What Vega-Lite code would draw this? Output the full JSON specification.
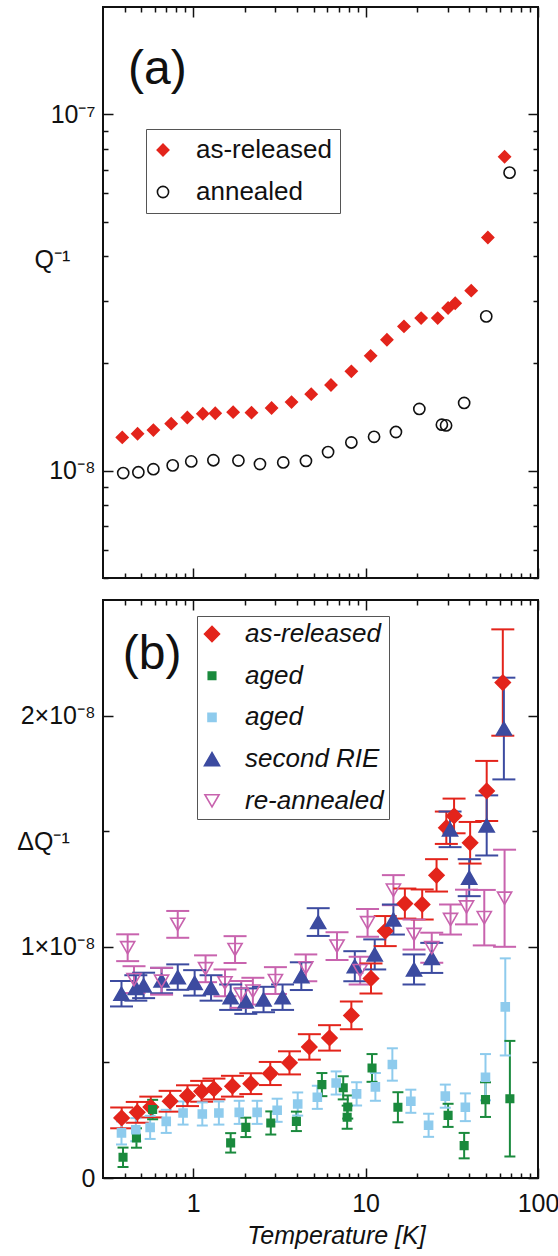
{
  "$schema": "https://vega.github.io/schema/vega-lite/v6.json",
  "padding": {"left": 15, "top": 5, "right": 0, "bottom": 0},
  "background": "white",
  "spacing": 18,
  "resolve": {
    "scale": {"shape": "independent", "fill": "independent", "stroke": "independent", "size": "independent", "color": "independent"}
  },
  "config": {
    "view": {"stroke": "#111", "strokeWidth": 2},
    "font": "Liberation Sans",
    "axis": {"domain": false, "ticks": true, "tickColor": "#111", "tickWidth": 1.5, "labelFont": "Liberation Sans", "labelFontSize": 25, "labelColor": "#111", "titleFont": "Liberation Sans", "titleFontSize": 25, "titleFontWeight": "normal", "titleColor": "#111", "grid": false, "labelFlush": false, "labelOverlap": false},
    "legend": {"labelFont": "Liberation Sans", "labelFontSize": 26, "labelColor": "#111", "strokeColor": "#555", "fillColor": "white", "symbolStrokeWidth": 1.6, "labelLimit": 300}
  },
  "datasets": {
    "top": [
      {"T": 0.393, "Q": 9.85e-9, "s": "annealed"},
      {"T": 0.481, "Q": 9.9e-9, "s": "annealed"},
      {"T": 0.588, "Q": 1.01e-8, "s": "annealed"},
      {"T": 0.761, "Q": 1.035e-8, "s": "annealed"},
      {"T": 0.975, "Q": 1.062e-8, "s": "annealed"},
      {"T": 1.31, "Q": 1.07e-8, "s": "annealed"},
      {"T": 1.83, "Q": 1.068e-8, "s": "annealed"},
      {"T": 2.44, "Q": 1.044e-8, "s": "annealed"},
      {"T": 3.33, "Q": 1.055e-8, "s": "annealed"},
      {"T": 4.51, "Q": 1.065e-8, "s": "annealed"},
      {"T": 6.06, "Q": 1.128e-8, "s": "annealed"},
      {"T": 8.27, "Q": 1.2e-8, "s": "annealed"},
      {"T": 11.2, "Q": 1.245e-8, "s": "annealed"},
      {"T": 15.0, "Q": 1.284e-8, "s": "annealed"},
      {"T": 20.5, "Q": 1.49e-8, "s": "annealed"},
      {"T": 27.7, "Q": 1.346e-8, "s": "annealed"},
      {"T": 29.3, "Q": 1.34e-8, "s": "annealed"},
      {"T": 37.3, "Q": 1.549e-8, "s": "annealed"},
      {"T": 50.1, "Q": 2.71e-8, "s": "annealed"},
      {"T": 68.4, "Q": 6.86e-8, "s": "annealed"},
      {"T": 0.388, "Q": 1.24e-8, "s": "as-released"},
      {"T": 0.476, "Q": 1.27e-8, "s": "as-released"},
      {"T": 0.588, "Q": 1.30e-8, "s": "as-released"},
      {"T": 0.746, "Q": 1.355e-8, "s": "as-released"},
      {"T": 0.925, "Q": 1.41e-8, "s": "as-released"},
      {"T": 1.137, "Q": 1.445e-8, "s": "as-released"},
      {"T": 1.343, "Q": 1.45e-8, "s": "as-released"},
      {"T": 1.706, "Q": 1.46e-8, "s": "as-released"},
      {"T": 2.18, "Q": 1.455e-8, "s": "as-released"},
      {"T": 2.85, "Q": 1.50e-8, "s": "as-released"},
      {"T": 3.72, "Q": 1.558e-8, "s": "as-released"},
      {"T": 4.84, "Q": 1.64e-8, "s": "as-released"},
      {"T": 6.30, "Q": 1.74e-8, "s": "as-released"},
      {"T": 8.27, "Q": 1.90e-8, "s": "as-released"},
      {"T": 10.7, "Q": 2.10e-8, "s": "as-released"},
      {"T": 13.3, "Q": 2.33e-8, "s": "as-released"},
      {"T": 16.7, "Q": 2.54e-8, "s": "as-released"},
      {"T": 21.0, "Q": 2.68e-8, "s": "as-released"},
      {"T": 26.2, "Q": 2.68e-8, "s": "as-released"},
      {"T": 30.1, "Q": 2.86e-8, "s": "as-released"},
      {"T": 33.1, "Q": 2.95e-8, "s": "as-released"},
      {"T": 41.0, "Q": 3.2e-8, "s": "as-released"},
      {"T": 51.2, "Q": 4.51e-8, "s": "as-released"},
      {"T": 64.0, "Q": 7.6e-8, "s": "as-released"}
    ],
    "bot": [
      {"g": "as-released", "T": 0.385, "v": 2.6e-9, "lo": 2.15e-9, "hi": 3.05e-9},
      {"g": "as-released", "T": 0.474, "v": 2.84e-9, "lo": 2.39e-9, "hi": 3.29e-9},
      {"g": "as-released", "T": 0.568, "v": 3.07e-9, "lo": 2.62e-9, "hi": 3.52e-9},
      {"g": "as-released", "T": 0.735, "v": 3.32e-9, "lo": 2.87e-9, "hi": 3.77e-9},
      {"g": "as-released", "T": 0.927, "v": 3.56e-9, "lo": 3.11e-9, "hi": 4.01e-9},
      {"g": "as-released", "T": 1.12, "v": 3.75e-9, "lo": 3.3e-9, "hi": 4.2e-9},
      {"g": "as-released", "T": 1.32, "v": 3.85e-9, "lo": 3.4e-9, "hi": 4.3e-9},
      {"g": "as-released", "T": 1.69, "v": 3.97e-9, "lo": 3.52e-9, "hi": 4.42e-9},
      {"g": "as-released", "T": 2.16, "v": 4.08e-9, "lo": 3.63e-9, "hi": 4.53e-9},
      {"g": "as-released", "T": 2.80, "v": 4.52e-9, "lo": 4.02e-9, "hi": 5.02e-9},
      {"g": "as-released", "T": 3.62, "v": 4.98e-9, "lo": 4.48e-9, "hi": 5.48e-9},
      {"g": "as-released", "T": 4.72, "v": 5.67e-9, "lo": 5.12e-9, "hi": 6.22e-9},
      {"g": "as-released", "T": 6.18, "v": 6.06e-9, "lo": 5.51e-9, "hi": 6.61e-9},
      {"g": "as-released", "T": 8.27, "v": 7.03e-9, "lo": 6.43e-9, "hi": 7.63e-9},
      {"g": "as-released", "T": 10.75, "v": 8.63e-9, "lo": 7.98e-9, "hi": 9.28e-9},
      {"g": "as-released", "T": 13.0, "v": 1.068e-8, "lo": 1.003e-8, "hi": 1.133e-8},
      {"g": "as-released", "T": 16.9, "v": 1.187e-8, "lo": 1.122e-8, "hi": 1.252e-8},
      {"g": "as-released", "T": 21.3, "v": 1.183e-8, "lo": 1.118e-8, "hi": 1.248e-8},
      {"g": "as-released", "T": 25.8, "v": 1.309e-8, "lo": 1.239e-8, "hi": 1.379e-8},
      {"g": "as-released", "T": 29.4, "v": 1.515e-8, "lo": 1.445e-8, "hi": 1.585e-8},
      {"g": "as-released", "T": 32.6, "v": 1.566e-8, "lo": 1.491e-8, "hi": 1.641e-8},
      {"g": "as-released", "T": 40.4, "v": 1.45e-8, "lo": 1.36e-8, "hi": 1.54e-8},
      {"g": "as-released", "T": 50.4, "v": 1.674e-8, "lo": 1.544e-8, "hi": 1.804e-8},
      {"g": "as-released", "T": 62.5, "v": 2.143e-8, "lo": 1.913e-8, "hi": 2.373e-8},
      {"g": "aged1", "T": 0.392, "v": 8.95e-10, "lo": 4.75e-10, "hi": 1.315e-9},
      {"g": "aged1", "T": 0.469, "v": 1.73e-9, "lo": 1.31e-9, "hi": 2.15e-9},
      {"g": "aged1", "T": 0.582, "v": 2.96e-9, "lo": 2.54e-9, "hi": 3.38e-9},
      {"g": "aged1", "T": 1.65, "v": 1.52e-9, "lo": 1.1e-9, "hi": 1.94e-9},
      {"g": "aged1", "T": 2.02, "v": 2.19e-9, "lo": 1.77e-9, "hi": 2.61e-9},
      {"g": "aged1", "T": 2.82, "v": 2.38e-9, "lo": 1.88e-9, "hi": 2.88e-9},
      {"g": "aged1", "T": 3.97, "v": 2.45e-9, "lo": 2.03e-9, "hi": 2.87e-9},
      {"g": "aged1", "T": 5.58, "v": 4.04e-9, "lo": 3.54e-9, "hi": 4.54e-9},
      {"g": "aged1", "T": 7.42, "v": 3.9e-9, "lo": 3.4e-9, "hi": 4.4e-9},
      {"g": "aged1", "T": 7.88, "v": 3.07e-9, "lo": 2.57e-9, "hi": 3.57e-9},
      {"g": "aged1", "T": 7.82, "v": 2.63e-9, "lo": 2.13e-9, "hi": 3.13e-9},
      {"g": "aged1", "T": 10.9, "v": 4.76e-9, "lo": 4.16e-9, "hi": 5.36e-9},
      {"g": "aged1", "T": 15.4, "v": 3.06e-9, "lo": 2.41e-9, "hi": 3.71e-9},
      {"g": "aged1", "T": 30.1, "v": 2.71e-9, "lo": 2.21e-9, "hi": 3.21e-9},
      {"g": "aged1", "T": 37.3, "v": 1.4e-9, "lo": 8.5e-10, "hi": 1.95e-9},
      {"g": "aged1", "T": 49.6, "v": 3.39e-9, "lo": 2.64e-9, "hi": 4.14e-9},
      {"g": "aged1", "T": 68.7, "v": 3.43e-9, "lo": 9.3e-10, "hi": 5.93e-9},
      {"g": "aged2", "T": 0.384, "v": 1.95e-9, "lo": 1.45e-9, "hi": 2.45e-9},
      {"g": "aged2", "T": 0.465, "v": 2.09e-9, "lo": 1.59e-9, "hi": 2.59e-9},
      {"g": "aged2", "T": 0.563, "v": 2.19e-9, "lo": 1.69e-9, "hi": 2.69e-9},
      {"g": "aged2", "T": 0.698, "v": 2.45e-9, "lo": 1.95e-9, "hi": 2.95e-9},
      {"g": "aged2", "T": 0.874, "v": 2.81e-9, "lo": 2.31e-9, "hi": 3.31e-9},
      {"g": "aged2", "T": 1.13, "v": 2.77e-9, "lo": 2.27e-9, "hi": 3.27e-9},
      {"g": "aged2", "T": 1.41, "v": 2.81e-9, "lo": 2.31e-9, "hi": 3.31e-9},
      {"g": "aged2", "T": 1.85, "v": 2.84e-9, "lo": 2.34e-9, "hi": 3.34e-9},
      {"g": "aged2", "T": 2.35, "v": 2.84e-9, "lo": 2.34e-9, "hi": 3.34e-9},
      {"g": "aged2", "T": 3.07, "v": 2.93e-9, "lo": 2.43e-9, "hi": 3.43e-9},
      {"g": "aged2", "T": 4.04, "v": 3.2e-9, "lo": 2.7e-9, "hi": 3.7e-9},
      {"g": "aged2", "T": 5.25, "v": 3.49e-9, "lo": 2.99e-9, "hi": 3.99e-9},
      {"g": "aged2", "T": 6.75, "v": 4.11e-9, "lo": 3.61e-9, "hi": 4.61e-9},
      {"g": "aged2", "T": 8.87, "v": 3.64e-9, "lo": 3.14e-9, "hi": 4.14e-9},
      {"g": "aged2", "T": 11.4, "v": 3.94e-9, "lo": 3.34e-9, "hi": 4.54e-9},
      {"g": "aged2", "T": 14.3, "v": 4.91e-9, "lo": 4.21e-9, "hi": 5.61e-9},
      {"g": "aged2", "T": 18.3, "v": 3.32e-9, "lo": 2.82e-9, "hi": 3.82e-9},
      {"g": "aged2", "T": 23.2, "v": 2.28e-9, "lo": 1.78e-9, "hi": 2.78e-9},
      {"g": "aged2", "T": 29.0, "v": 3.54e-9, "lo": 3.04e-9, "hi": 4.04e-9},
      {"g": "aged2", "T": 37.9, "v": 3.06e-9, "lo": 2.46e-9, "hi": 3.66e-9},
      {"g": "aged2", "T": 49.6, "v": 4.36e-9, "lo": 3.36e-9, "hi": 5.36e-9},
      {"g": "aged2", "T": 64.6, "v": 7.4e-9, "lo": 5.3e-9, "hi": 9.5e-9},
      {"g": "second RIE", "T": 0.384, "v": 7.97e-9, "lo": 7.42e-9, "hi": 8.52e-9},
      {"g": "second RIE", "T": 0.465, "v": 8.22e-9, "lo": 7.67e-9, "hi": 8.77e-9},
      {"g": "second RIE", "T": 0.516, "v": 8.33e-9, "lo": 7.78e-9, "hi": 8.88e-9},
      {"g": "second RIE", "T": 0.656, "v": 8.54e-9, "lo": 7.99e-9, "hi": 9.09e-9},
      {"g": "second RIE", "T": 0.814, "v": 8.69e-9, "lo": 8.14e-9, "hi": 9.24e-9},
      {"g": "second RIE", "T": 1.02, "v": 8.44e-9, "lo": 7.89e-9, "hi": 8.99e-9},
      {"g": "second RIE", "T": 1.27, "v": 8.22e-9, "lo": 7.67e-9, "hi": 8.77e-9},
      {"g": "second RIE", "T": 1.65, "v": 7.82e-9, "lo": 7.27e-9, "hi": 8.37e-9},
      {"g": "second RIE", "T": 2.02, "v": 7.65e-9, "lo": 7.1e-9, "hi": 8.2e-9},
      {"g": "second RIE", "T": 2.56, "v": 7.72e-9, "lo": 7.17e-9, "hi": 8.27e-9},
      {"g": "second RIE", "T": 3.30, "v": 7.82e-9, "lo": 7.27e-9, "hi": 8.37e-9},
      {"g": "second RIE", "T": 4.24, "v": 8.73e-9, "lo": 8.13e-9, "hi": 9.33e-9},
      {"g": "second RIE", "T": 5.31, "v": 1.107e-8, "lo": 1.047e-8, "hi": 1.167e-8},
      {"g": "second RIE", "T": 8.66, "v": 9.16e-9, "lo": 8.51e-9, "hi": 9.81e-9},
      {"g": "second RIE", "T": 11.3, "v": 9.67e-9, "lo": 9.02e-9, "hi": 1.032e-8},
      {"g": "second RIE", "T": 14.5, "v": 1.118e-8, "lo": 1.053e-8, "hi": 1.183e-8},
      {"g": "second RIE", "T": 19.1, "v": 9.02e-9, "lo": 8.37e-9, "hi": 9.67e-9},
      {"g": "second RIE", "T": 24.2, "v": 9.52e-9, "lo": 8.87e-9, "hi": 1.017e-8},
      {"g": "second RIE", "T": 30.9, "v": 1.508e-8, "lo": 1.431e-8, "hi": 1.585e-8},
      {"g": "second RIE", "T": 39.9, "v": 1.299e-8, "lo": 1.219e-8, "hi": 1.379e-8},
      {"g": "second RIE", "T": 50.4, "v": 1.525e-8, "lo": 1.395e-8, "hi": 1.655e-8},
      {"g": "second RIE", "T": 63.4, "v": 1.944e-8, "lo": 1.724e-8, "hi": 2.164e-8},
      {"g": "re-annealed", "T": 0.417, "v": 9.96e-9, "lo": 9.38e-9, "hi": 1.054e-8},
      {"g": "re-annealed", "T": 0.454, "v": 8.58e-9, "lo": 8.0e-9, "hi": 9.16e-9},
      {"g": "re-annealed", "T": 0.656, "v": 8.51e-9, "lo": 7.93e-9, "hi": 9.09e-9},
      {"g": "re-annealed", "T": 0.814, "v": 1.097e-8, "lo": 1.039e-8, "hi": 1.155e-8},
      {"g": "re-annealed", "T": 1.18, "v": 9.05e-9, "lo": 8.47e-9, "hi": 9.63e-9},
      {"g": "re-annealed", "T": 1.53, "v": 8.44e-9, "lo": 7.86e-9, "hi": 9.02e-9},
      {"g": "re-annealed", "T": 1.75, "v": 9.88e-9, "lo": 9.3e-9, "hi": 1.046e-8},
      {"g": "re-annealed", "T": 1.90, "v": 7.94e-9, "lo": 7.36e-9, "hi": 8.52e-9},
      {"g": "re-annealed", "T": 2.22, "v": 8.08e-9, "lo": 7.5e-9, "hi": 8.66e-9},
      {"g": "re-annealed", "T": 3.0, "v": 8.54e-9, "lo": 7.96e-9, "hi": 9.12e-9},
      {"g": "re-annealed", "T": 4.5, "v": 9.09e-9, "lo": 8.51e-9, "hi": 9.67e-9},
      {"g": "re-annealed", "T": 6.83, "v": 1.003e-8, "lo": 9.43e-9, "hi": 1.063e-8},
      {"g": "re-annealed", "T": 9.3, "v": 8.97e-9, "lo": 8.37e-9, "hi": 9.57e-9},
      {"g": "re-annealed", "T": 10.27, "v": 1.104e-8, "lo": 1.044e-8, "hi": 1.164e-8},
      {"g": "re-annealed", "T": 14.5, "v": 1.245e-8, "lo": 1.18e-8, "hi": 1.31e-8},
      {"g": "re-annealed", "T": 19.1, "v": 1.053e-8, "lo": 9.88e-9, "hi": 1.118e-8},
      {"g": "re-annealed", "T": 24.2, "v": 9.96e-9, "lo": 9.31e-9, "hi": 1.061e-8},
      {"g": "re-annealed", "T": 31.1, "v": 1.118e-8, "lo": 1.053e-8, "hi": 1.183e-8},
      {"g": "re-annealed", "T": 38.5, "v": 1.172e-8, "lo": 1.097e-8, "hi": 1.247e-8},
      {"g": "re-annealed", "T": 48.8, "v": 1.126e-8, "lo": 1.006e-8, "hi": 1.246e-8},
      {"g": "re-annealed", "T": 64.0, "v": 1.21e-8, "lo": 1.0e-8, "hi": 1.42e-8}
    ]
  },
  "vconcat": [
    {
      "width": 435,
      "height": 571,
      "data": {"name": "top"},
      "resolve": {"axis": {"x": "independent", "y": "independent"}},
      "layer": [
        {
          "mark": {"type": "point", "opacity": 1, "strokeWidth": 1.6},
          "encoding": {
            "x": {"field": "T", "type": "quantitative", "scale": {"type": "log", "domain": [0.3, 100], "nice": false},
                  "axis": {"orient": "bottom", "values": [1, 10, 100], "labels": false, "offset": -10, "tickSize": 10, "title": null}},
            "y": {"field": "Q", "type": "quantitative", "scale": {"type": "log", "domain": [5e-9, 2e-7], "nice": false},
                  "axis": {"orient": "left", "values": [1e-8, 1e-7], "offset": -10, "tickSize": 10, "labelPadding": 8, "labelExpr": "datum.value < 5e-8 ? '10⁻⁸' : '10⁻⁷'", "title": "Q⁻¹", "titleAngle": 0, "titleX": -61, "titleY": 252, "titleAlign": "center", "titleBaseline": "middle"}},
            "shape": {"field": "s", "type": "nominal", "scale": {"domain": ["as-released", "annealed"], "range": ["diamond", "circle"]},
                      "legend": {"title": null, "orient": "none", "legendX": 43, "legendY": 122, "padding": 8, "rowPadding": 16, "labelOffset": 20, "symbolOffset": -4}},
            "fill": {"field": "s", "type": "nominal", "scale": {"domain": ["as-released", "annealed"], "range": ["#e3241b", "transparent"]},
                     "legend": {"title": null, "orient": "none", "legendX": 43, "legendY": 122, "padding": 8, "rowPadding": 16, "labelOffset": 20, "symbolOffset": -4}},
            "stroke": {"field": "s", "type": "nominal", "scale": {"domain": ["as-released", "annealed"], "range": ["#e3241b", "#111111"]},
                       "legend": {"title": null, "orient": "none", "legendX": 43, "legendY": 122, "padding": 8, "rowPadding": 16, "labelOffset": 20, "symbolOffset": -4}},
            "size": {"field": "s", "type": "nominal", "scale": {"type": "ordinal", "domain": ["as-released", "annealed"], "range": [135, 125]},
                     "legend": {"title": null, "orient": "none", "legendX": 43, "legendY": 122, "padding": 8, "rowPadding": 16, "labelOffset": 20, "symbolOffset": -4}}
          }
        },
        {
          "mark": {"type": "point", "opacity": 0},
          "encoding": {
            "x": {"field": "T", "type": "quantitative", "scale": {"type": "log", "domain": [0.3, 100], "nice": false},
                  "axis": {"orient": "bottom", "values": [0.4, 0.5, 0.6, 0.7, 0.8, 0.9, 2, 3, 4, 5, 6, 7, 8, 9, 20, 30, 40, 50, 60, 70, 80, 90], "labels": false, "offset": -5, "tickSize": 5, "title": null}},
            "y": {"field": "Q", "type": "quantitative", "scale": {"type": "log", "domain": [5e-9, 2e-7], "nice": false},
                  "axis": {"orient": "left", "values": [5e-9, 6e-9, 7e-9, 8e-9, 9e-9, 2e-8, 3e-8, 4e-8, 5e-8, 6e-8, 7e-8, 8e-8, 9e-8], "labels": false, "offset": -5, "tickSize": 5, "title": null}}
          }
        },
        {
          "data": {"values": [{"label": "(a)"}]},
          "mark": {"type": "text", "fontSize": 48, "font": "Liberation Sans", "align": "center", "baseline": "middle", "color": "#111"},
          "encoding": {
            "text": {"field": "label", "type": "nominal"},
            "x": {"datum": 0.62, "type": "quantitative", "scale": {"type": "log", "domain": [0.3, 100], "nice": false},
                  "axis": {"orient": "top", "values": [1, 10, 100], "labels": false, "offset": -10, "tickSize": 10, "title": null}},
            "y": {"datum": 1.33e-7, "type": "quantitative", "scale": {"type": "log", "domain": [5e-9, 2e-7], "nice": false},
                  "axis": {"orient": "right", "values": [1e-8, 1e-7], "labels": false, "offset": -10, "tickSize": 10, "title": null}}
          }
        },
        {
          "mark": {"type": "point", "opacity": 0},
          "encoding": {
            "x": {"field": "T", "type": "quantitative", "scale": {"type": "log", "domain": [0.3, 100], "nice": false},
                  "axis": {"orient": "top", "values": [0.4, 0.5, 0.6, 0.7, 0.8, 0.9, 2, 3, 4, 5, 6, 7, 8, 9, 20, 30, 40, 50, 60, 70, 80, 90], "labels": false, "offset": -5, "tickSize": 5, "title": null}},
            "y": {"field": "Q", "type": "quantitative", "scale": {"type": "log", "domain": [5e-9, 2e-7], "nice": false},
                  "axis": {"orient": "right", "values": [5e-9, 6e-9, 7e-9, 8e-9, 9e-9, 2e-8, 3e-8, 4e-8, 5e-8, 6e-8, 7e-8, 8e-8, 9e-8], "labels": false, "offset": -5, "tickSize": 5, "title": null}}
          }
        }
      ]
    },
    {
      "width": 435,
      "height": 578,
      "data": {"name": "bot"},
      "resolve": {"axis": {"x": "independent", "y": "independent"}},
      "layer": [
        {
          "mark": {"type": "rule", "strokeWidth": 2},
          "encoding": {
            "x": {"field": "T", "type": "quantitative", "scale": {"type": "log", "domain": [0.3, 100], "nice": false},
                  "axis": {"orient": "bottom", "values": [1, 10, 100], "offset": -10, "tickSize": 10, "labelPadding": 13, "labelExpr": "datum.value < 5 ? '1' : datum.value < 50 ? '10' : '100'", "title": "Temperature [K]", "titleFontStyle": "italic", "titleX": 233, "titleY": 67, "titleAlign": "center", "titleBaseline": "middle"}},
            "y": {"field": "lo", "type": "quantitative", "scale": {"type": "linear", "domain": [0, 2.5e-8], "nice": false, "zero": false},
                  "axis": {"orient": "left", "values": [0, 1e-8, 2e-8], "offset": -10, "tickSize": 10, "labelPadding": 8, "labelExpr": "datum.value == 0 ? '0' : datum.value < 1.5e-8 ? '1×10⁻⁸' : '2×10⁻⁸'", "title": "ΔQ⁻¹", "titleAngle": 0, "titleX": -70, "titleY": 241, "titleAlign": "center", "titleBaseline": "middle"}},
            "y2": {"field": "hi"},
            "color": {"field": "g", "type": "nominal", "scale": {"domain": ["re-annealed", "second RIE", "aged2", "aged1", "as-released"], "range": ["#c863ae", "#3c4ba0", "#8ecbed", "#1a8a3d", "#e3241b"]}, "legend": null}
          }
        },
        {
          "transform": [{"filter": "datum.g != 'aged1' && datum.g != 'aged2'"}],
          "mark": {"type": "tick", "orient": "horizontal", "size": 23, "thickness": 2, "opacity": 1},
          "encoding": {
            "x": {"field": "T", "type": "quantitative", "scale": {"type": "log", "domain": [0.3, 100], "nice": false},
                  "axis": {"orient": "bottom", "values": [0.4, 0.5, 0.6, 0.7, 0.8, 0.9, 2, 3, 4, 5, 6, 7, 8, 9, 20, 30, 40, 50, 60, 70, 80, 90], "labels": false, "offset": -5, "tickSize": 5, "title": null}},
            "y": {"field": "lo", "type": "quantitative", "scale": {"type": "linear", "domain": [0, 2.5e-8], "nice": false, "zero": false},
                  "axis": {"orient": "left", "values": [5e-9, 1.5e-8], "labels": false, "offset": -6, "tickSize": 6, "title": null}},
            "color": {"field": "g", "type": "nominal", "scale": {"domain": ["re-annealed", "second RIE", "aged2", "aged1", "as-released"], "range": ["#c863ae", "#3c4ba0", "#8ecbed", "#1a8a3d", "#e3241b"]}, "legend": null}
          }
        },
        {
          "transform": [{"filter": "datum.g != 'aged1' && datum.g != 'aged2'"}],
          "mark": {"type": "tick", "orient": "horizontal", "size": 23, "thickness": 2, "opacity": 1},
          "encoding": {
            "x": {"field": "T", "type": "quantitative", "scale": {"type": "log", "domain": [0.3, 100], "nice": false},
                  "axis": {"orient": "top", "values": [1, 10, 100], "labels": false, "offset": -10, "tickSize": 10, "title": null}},
            "y": {"field": "hi", "type": "quantitative", "scale": {"type": "linear", "domain": [0, 2.5e-8], "nice": false, "zero": false},
                  "axis": {"orient": "right", "values": [0, 1e-8, 2e-8], "labels": false, "offset": -10, "tickSize": 10, "title": null}},
            "color": {"field": "g", "type": "nominal", "scale": {"domain": ["re-annealed", "second RIE", "aged2", "aged1", "as-released"], "range": ["#c863ae", "#3c4ba0", "#8ecbed", "#1a8a3d", "#e3241b"]}, "legend": null}
          }
        },
        {
          "transform": [{"filter": "datum.g == 'aged1' || datum.g == 'aged2'"}],
          "mark": {"type": "tick", "orient": "horizontal", "size": 11, "thickness": 2, "opacity": 1},
          "encoding": {
            "x": {"field": "T", "type": "quantitative", "scale": {"type": "log", "domain": [0.3, 100], "nice": false},
                  "axis": {"orient": "top", "values": [0.4, 0.5, 0.6, 0.7, 0.8, 0.9, 2, 3, 4, 5, 6, 7, 8, 9, 20, 30, 40, 50, 60, 70, 80, 90], "labels": false, "offset": -5, "tickSize": 5, "title": null}},
            "y": {"field": "lo", "type": "quantitative", "scale": {"type": "linear", "domain": [0, 2.5e-8], "nice": false, "zero": false},
                  "axis": {"orient": "right", "values": [5e-9, 1.5e-8], "labels": false, "offset": -6, "tickSize": 6, "title": null}},
            "color": {"field": "g", "type": "nominal", "scale": {"domain": ["re-annealed", "second RIE", "aged2", "aged1", "as-released"], "range": ["#c863ae", "#3c4ba0", "#8ecbed", "#1a8a3d", "#e3241b"]}, "legend": null}
          }
        },
        {
          "transform": [{"filter": "datum.g == 'aged1' || datum.g == 'aged2'"}],
          "mark": {"type": "tick", "orient": "horizontal", "size": 11, "thickness": 2, "opacity": 1},
          "encoding": {
            "x": {"field": "T", "type": "quantitative", "scale": {"type": "log", "domain": [0.3, 100], "nice": false}, "axis": null},
            "y": {"field": "hi", "type": "quantitative", "scale": {"type": "linear", "domain": [0, 2.5e-8], "nice": false, "zero": false}, "axis": null},
            "color": {"field": "g", "type": "nominal", "scale": {"domain": ["re-annealed", "second RIE", "aged2", "aged1", "as-released"], "range": ["#c863ae", "#3c4ba0", "#8ecbed", "#1a8a3d", "#e3241b"]}, "legend": null}
          }
        },
        {
          "mark": {"type": "point", "opacity": 1, "strokeWidth": 1.6},
          "encoding": {
            "x": {"field": "T", "type": "quantitative", "scale": {"type": "log", "domain": [0.3, 100], "nice": false}, "axis": null},
            "y": {"field": "v", "type": "quantitative", "scale": {"type": "linear", "domain": [0, 2.5e-8], "nice": false, "zero": false}, "axis": null},
            "shape": {"field": "g", "type": "nominal", "scale": {"domain": ["as-released", "aged1", "aged2", "second RIE", "re-annealed"], "range": ["diamond", "square", "square", "triangle-up", "triangle-down"]},
                      "legend": {"title": null, "orient": "none", "legendX": 94, "legendY": 16, "padding": 5, "rowPadding": 15.7, "labelOffset": 20, "symbolOffset": -3, "labelFontStyle": "italic", "labelExpr": "datum.label == 'aged1' || datum.label == 'aged2' ? 'aged' : datum.label"}},
            "fill": {"field": "g", "type": "nominal", "scale": {"domain": ["as-released", "aged1", "aged2", "second RIE", "re-annealed"], "range": ["#e3241b", "#1a8a3d", "#8ecbed", "#3c4ba0", "transparent"]},
                     "legend": {"title": null, "orient": "none", "legendX": 94, "legendY": 16, "padding": 5, "rowPadding": 15.7, "labelOffset": 20, "symbolOffset": -3, "labelFontStyle": "italic", "labelExpr": "datum.label == 'aged1' || datum.label == 'aged2' ? 'aged' : datum.label"}},
            "stroke": {"field": "g", "type": "nominal", "scale": {"domain": ["as-released", "aged1", "aged2", "second RIE", "re-annealed"], "range": ["#e3241b", "#1a8a3d", "#8ecbed", "#3c4ba0", "#c863ae"]},
                       "legend": {"title": null, "orient": "none", "legendX": 94, "legendY": 16, "padding": 5, "rowPadding": 15.7, "labelOffset": 20, "symbolOffset": -3, "labelFontStyle": "italic", "labelExpr": "datum.label == 'aged1' || datum.label == 'aged2' ? 'aged' : datum.label"}},
            "size": {"field": "g", "type": "nominal", "scale": {"type": "ordinal", "domain": ["as-released", "aged1", "aged2", "second RIE", "re-annealed"], "range": [225, 56, 64, 225, 200]},
                     "legend": {"title": null, "orient": "none", "legendX": 94, "legendY": 16, "padding": 5, "rowPadding": 15.7, "labelOffset": 20, "symbolOffset": -3, "labelFontStyle": "italic", "labelExpr": "datum.label == 'aged1' || datum.label == 'aged2' ? 'aged' : datum.label"}}
          }
        },
        {
          "data": {"values": [{"label": "(b)"}]},
          "mark": {"type": "text", "fontSize": 48, "font": "Liberation Sans", "align": "center", "baseline": "middle", "color": "#111"},
          "encoding": {
            "text": {"field": "label", "type": "nominal"},
            "x": {"datum": 0.578, "type": "quantitative", "scale": {"type": "log", "domain": [0.3, 100], "nice": false}, "axis": null},
            "y": {"datum": 2.26e-8, "type": "quantitative", "scale": {"type": "linear", "domain": [0, 2.5e-8], "nice": false, "zero": false}, "axis": null}
          }
        }
      ]
    }
  ]
}
